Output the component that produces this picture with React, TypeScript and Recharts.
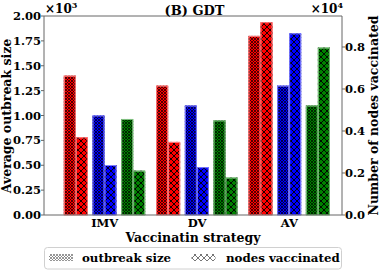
import React from 'react';
import { BarChart, Bar, XAxis, YAxis, ReferenceLine } from 'recharts';

const categories = ['IMV', 'DV', 'AV'];
const redOutbreak = [1400, 1300, 1800];
const redVaccinated = [3700, 3480, 9180];
const blueOutbreak = [1000, 1100, 1300];
const blueVaccinated = [2380, 2280, 8650];
const greenOutbreak = [965, 950, 1100];
const greenVaccinated = [2110, 1780, 7970];
const leftTicks = [0, 250, 500, 750, 1000, 1250, 1500, 1750, 2000];
const rightTicks = [0, 2000, 4000, 6000, 8000];

const data = categories.map((name, i) => ({
  name,
  ro: redOutbreak[i],
  rn: redVaccinated[i],
  bo: blueOutbreak[i],
  bn: blueVaccinated[i],
  go: greenOutbreak[i],
  gn: greenVaccinated[i],
}));

const FONT = '"DejaVu Serif", serif';
const AXIS = '#666';

// pair shift so the colour pairs get a small gap between them
const makeShape = (fill: string, edge: string, pattern: string, shift: number) =>
  (props: any) => {
    const { x, y, width, height } = props;
    if (!height || height <= 0) return <g />;
    return (
      <g>
        <rect x={x + shift} y={y} width={width} height={height} fill={fill} />
        <rect x={x + shift} y={y} width={width} height={height} fill={`url(#${pattern})`} />
        <rect x={x + shift + 0.5} y={y + 0.5} width={width - 1} height={height - 0.5}
          fill="none" stroke={edge} strokeWidth={1} />
      </g>
    );
  };

const tickStyle = { fontFamily: FONT, fontWeight: 'bold', fontSize: 11.5, fill: '#000' };
const labelStyle = { fontFamily: FONT, fontWeight: 'bold', fontSize: 13, fill: '#000' };
const yLabelStyle = { ...labelStyle, fontSize: 12.5, textAnchor: 'middle' };

export default function App() {
  return (
    <div style={{ position: 'absolute', left: 0, top: 0, width: 382, height: 273, background: '#fff' }}>
      <svg width={0} height={0} style={{ position: 'absolute' }}>
        <defs>
          <pattern id="dense" width={3} height={3} patternUnits="userSpaceOnUse">
            <path d="M0,0 L3,3 M3,0 L0,3" stroke="#000" strokeWidth={0.8} opacity={0.85} />
          </pattern>
          <pattern id="cross" width={6} height={6} patternUnits="userSpaceOnUse">
            <path d="M0,0 L6,6 M6,0 L0,6" stroke="#000" strokeWidth={0.9} />
          </pattern>
        </defs>
      </svg>
      <BarChart
        width={382}
        height={273}
        data={data}
        margin={{ top: 16, right: 0, bottom: 26, left: 0 }}
        barGap={0}
        barSize={12}
      >
        <XAxis
          dataKey="name"
          height={32}
          padding={{ left: 14.5, right: 6.5 }}
          tickLine={false}
          tickSize={4}
          axisLine={{ stroke: AXIS }}
          tick={tickStyle}
          tickMargin={0}
          label={{ value: 'Vaccinatin strategy', position: 'insideBottom', offset: 5, style: { ...labelStyle, fontSize: 12.5 } }}
        />
        <YAxis
          yAxisId="left"
          width={44}
          domain={[0, 2000]}
          ticks={leftTicks}
          tickFormatter={(v: number) => (v / 1000).toFixed(2)}
          tick={tickStyle}
          tickSize={3}
          tickMargin={0}
          tickLine={{ stroke: AXIS }}
          axisLine={{ stroke: AXIS }}
        />
        <YAxis
          yAxisId="right"
          orientation="right"
          width={40}
          domain={[0, 9476]}
          ticks={rightTicks}
          tickFormatter={(v: number) => (v / 10000).toFixed(1)}
          tick={tickStyle}
          tickSize={3}
          tickMargin={0}
          tickLine={{ stroke: AXIS }}
          axisLine={{ stroke: AXIS }}
          label={{ value: 'Number of nodes vaccinated', angle: -90, position: 'insideRight', offset: 0, dx: -8, style: yLabelStyle }}
        />
        <ReferenceLine yAxisId="left" y={2000} stroke={AXIS} />
        <Bar yAxisId="left" dataKey="ro" isAnimationActive={false} shape={makeShape('#ff0000', '#ff8080', 'dense', -4.7)} />
        <Bar yAxisId="right" dataKey="rn" isAnimationActive={false} shape={makeShape('#ff0000', '#ff8080', 'cross', -4.7)} />
        <Bar yAxisId="left" dataKey="bo" isAnimationActive={false} shape={makeShape('#0000ff', '#8080ff', 'dense', 0)} />
        <Bar yAxisId="right" dataKey="bn" isAnimationActive={false} shape={makeShape('#0000ff', '#8080ff', 'cross', 0)} />
        <Bar yAxisId="left" dataKey="go" isAnimationActive={false} shape={makeShape('#008000', '#80c080', 'dense', 4.7)} />
        <Bar yAxisId="right" dataKey="gn" isAnimationActive={false} shape={makeShape('#008000', '#80c080', 'cross', 4.7)} />
      </BarChart>
      <svg width={382} height={273} style={{ position: 'absolute', left: 0, top: 0, pointerEvents: 'none' }}>
        <text transform="translate(10.5,116) rotate(-90)" textAnchor="middle" style={{ ...labelStyle, fontSize: 12.5 }}>
          Average outbreak size
        </text>
        <text x={194.5} y={15} textAnchor="middle" style={labelStyle}>(B) GDT</text>
        <text x={45} y={13} style={{ ...labelStyle, fontSize: 12 }}>
          ×10<tspan dy={-5} fontSize={8}>3</tspan>
        </text>
        <text x={343} y={13} textAnchor="end" style={{ ...labelStyle, fontSize: 12 }}>
          ×10<tspan dy={-5} fontSize={8}>4</tspan>
        </text>
        <rect x={44.5} y={247.5} width={297} height={21.5} rx={3} fill="#fff" stroke="#d0d0d0" />
        <rect x={49} y={254} width={24} height={7} fill="url(#dense)" opacity={0.6} />
        <text x={82} y={262} style={{ ...labelStyle, fontSize: 11.8 }}>outbreak size</text>
        <rect x={191.5} y={254} width={24} height={7} fill="url(#cross)" opacity={0.6} />
        <text x={226} y={262} style={{ ...labelStyle, fontSize: 11.8 }}>nodes vaccinated</text>
      </svg>
    </div>
  );
}
